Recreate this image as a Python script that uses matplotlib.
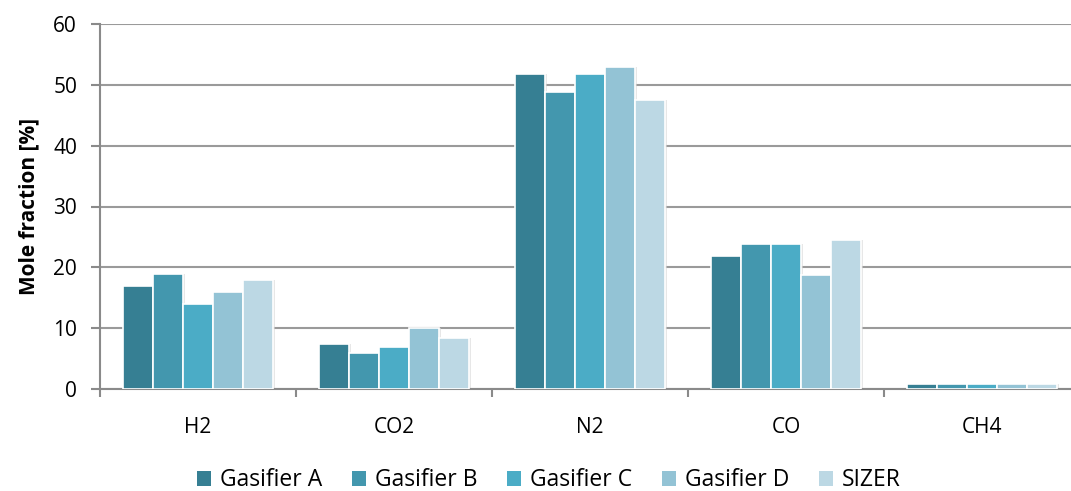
import matplotlib
matplotlib.use("Agg")
import matplotlib.pyplot as plt
import numpy as np
from matplotlib.patches import Patch

categories = ["H2", "CO2", "N2", "CO", "CH4"]
series_names = ["Gasifier A", "Gasifier B", "Gasifier C", "Gasifier D", "SIZER"]
gasifier_a = [16.9, 7.4, 51.8, 21.8, 0.9]
gasifier_b = [18.9, 5.9, 48.9, 23.8, 0.9]
gasifier_c = [14.0, 6.9, 51.8, 23.8, 0.9]
gasifier_d = [16.0, 10.0, 53.0, 18.8, 0.9]
sizer = [18.0, 8.4, 47.5, 24.5, 0.9]
series_values = [gasifier_a, gasifier_b, gasifier_c, gasifier_d, sizer]
colors = ["#367F93", "#4397AE", "#4BACC6", "#93C3D5", "#BCD8E4"]
yticks = [0, 10, 20, 30, 40, 50, 60]

plt.rcParams['font.family'] = ['Open Sans', 'DejaVu Sans']

fig = plt.figure(figsize=(10.71, 4.91), dpi=100)
ax = fig.add_axes([100 / 1071, 1 - 389 / 491, 980 / 1071, 365 / 491])

x = np.arange(len(categories))
w = 0.153
for i, (vals, c, name) in enumerate(zip(series_values, colors, series_names)):
    pos = x + (i - 2) * w
    ax.bar(pos + 0.012, vals, w, color="#d8d8d8", alpha=0.6, zorder=2, linewidth=0)
    ax.bar(pos, vals, w, color=c, edgecolor="white", linewidth=1.2, zorder=3, label=name)

ax.set_xlim(-0.5, len(categories) - 0.5)
ax.set_ylim(0, 60)
ax.set_yticks(yticks)
ax.yaxis.grid(True, color="#9a9a9a", linewidth=1.5, zorder=0)
ax.set_axisbelow(True)
ax.set_xticks(np.arange(-0.5, len(categories), 1.0))
ax.set_xticklabels([])
ax.set_xticks(x, minor=True)
ax.set_xticklabels(categories, minor=True, fontsize=15)
ax.tick_params(axis='x', which='major', length=6, width=1.5, color="#8a8a8a")
ax.tick_params(axis='x', which='minor', length=0, pad=20)
ax.tick_params(axis='y', length=6.5, width=1.5, color="#8a8a8a", labelsize=15, pad=10)
for s in ["top", "right"]:
    ax.spines[s].set_visible(False)
for s in ["left", "bottom"]:
    ax.spines[s].set_color("#8a8a8a")
    ax.spines[s].set_linewidth(1.5)
ax.set_ylabel("Mole fraction [%]", fontsize=15, fontweight="bold", labelpad=10)

handles = [Patch(facecolor=c, edgecolor="none") for c in colors]
fig.legend(handles, series_names, loc="lower center", ncol=5, frameon=False,
           fontsize=16.5, bbox_to_anchor=(549 / 1071, -0.045), handlelength=0.6,
           handleheight=0.6, handletextpad=0.4, columnspacing=1.3)

fig.savefig("out.png", dpi=100)
